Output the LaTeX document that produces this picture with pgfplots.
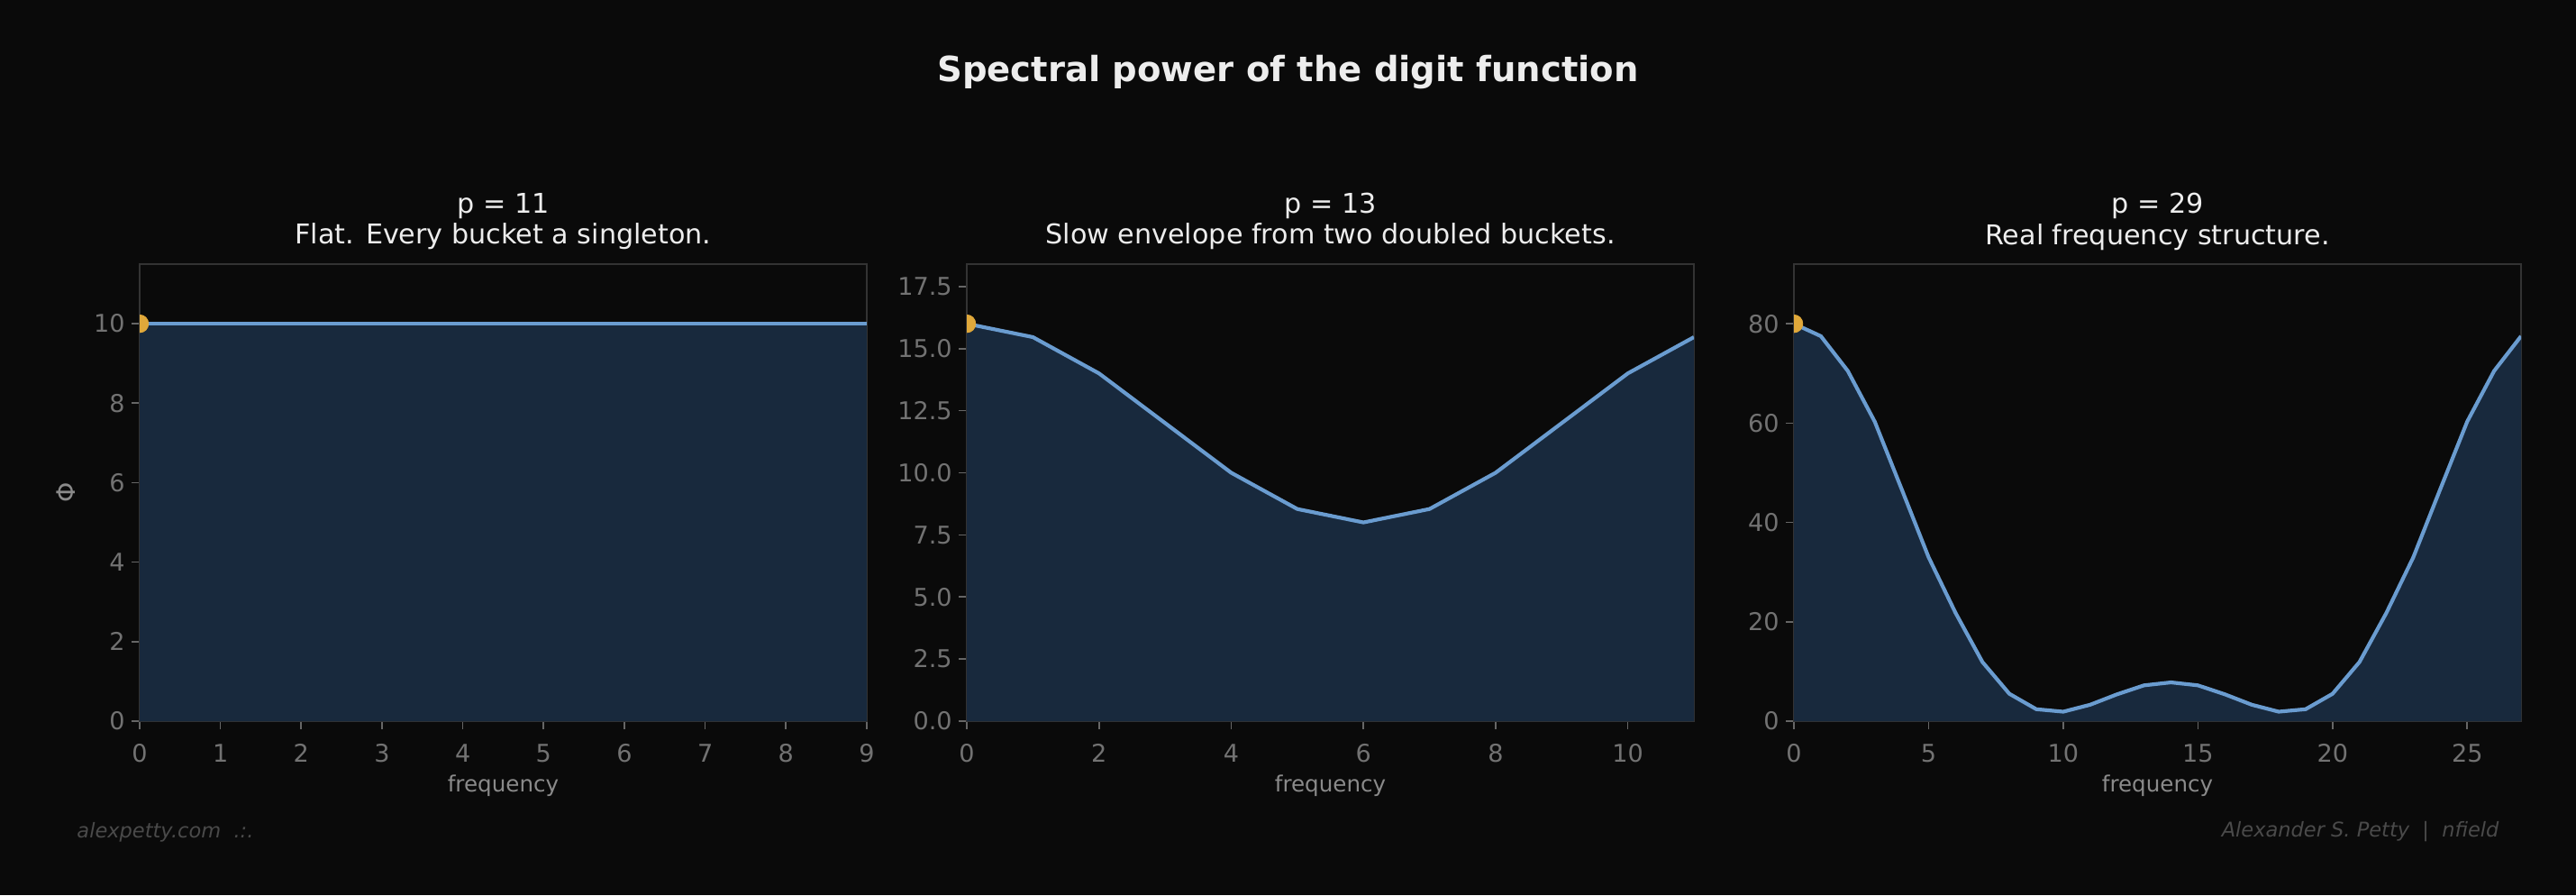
\documentclass[border=0pt]{standalone}
\usepackage{pgfplots}
\pgfplotsset{compat=1.18}
\usepackage{pgfplotstable}
\usepackage{fontspec}
\setmainfont{DejaVu Sans}

\definecolor{bg}{HTML}{0A0A0A}
\definecolor{fillc}{HTML}{18293D}
\definecolor{linec}{HTML}{6A9CD0}
\definecolor{dotc}{HTML}{E0A83A}
\definecolor{frame}{HTML}{333333}
\definecolor{tickc}{HTML}{666666}
\definecolor{tickl}{HTML}{727272}
\definecolor{labc}{HTML}{8A8A8A}
\definecolor{titc}{HTML}{EDEDED}
\definecolor{footc}{HTML}{4A4A4A}

% spectral power per frequency, one table per prime
\pgfplotstableread{
f phi
0 10
1 10
2 10
3 10
4 10
5 10
6 10
7 10
8 10
9 10
}\ptA
\pgfplotstableread{
f phi
0 16
1 15.46
2 14
3 12
4 10
5 8.54
6 8
7 8.54
8 10
9 12
10 14
11 15.46
}\ptB
\pgfplotstableread{
f phi
0 80
1 77.5
2 70.5
3 60.3
4 46.7
5 33.0
6 21.8
7 11.9
8 5.5
9 2.4
10 1.9
11 3.3
12 5.4
13 7.2
14 7.8
15 7.2
16 5.4
17 3.3
18 1.9
19 2.4
20 5.5
21 11.9
22 21.8
23 33.0
24 46.7
25 60.3
26 70.5
27 77.5
}\ptC

\pgfplotsset{
  panel/.style={
    scale only axis, width=387.36pt, height=243.36pt,
    anchor=south west, xmin=0, ymin=0,
    axis line style={draw=frame, line width=1pt},
    tick align=outside, major tick length=4.3pt,
    xtick pos=lower, ytick pos=left,
    tick style={draw=tickc, line width=0.8pt},
    ticklabel style={text=tickl, font=\fontsize{13}{15}\selectfont},
    xticklabel style={yshift=-4.3pt},
    /pgf/number format/assume math mode=true,
    scaled ticks=false,
    clip marker paths=true,
    xlabel={frequency},
    xlabel style={at={(axis description cs:0.5,0)}, anchor=base, yshift=-37.6pt,
      text=labc, font=\fontsize{11.8}{14}\selectfont},
  },
  areaplot/.style={fill=fillc, draw=none},
  lineplot/.style={draw=linec, line width=2pt, no marks},
  dotplot/.style={only marks, mark=*, mark size=4.7pt, color=dotc},
}

\newcommand{\paneltitle}[3]{%
  \node[anchor=base, text=titc, font=\fontsize{14.5}{17}\selectfont]
    at ([yshift=26.9pt]#1.north) {#2};
  \node[anchor=base, text=titc, font=\fontsize{14.5}{17}\selectfont]
    at ([yshift=10.56pt]#1.north) {#3};}

\begin{document}
\begin{tikzpicture}
\fill[bg] (0,0) rectangle (1372.32pt,476.64pt);

\begin{axis}[panel, name=pa, at={(74.4pt,92.64pt)},
  xmax=9, ymax=11.5, xtick={0,...,9}, ytick={0,2,...,10},
  ylabel={Φ},
  ylabel style={at={(axis description cs:0,0.5)}, anchor=center, yshift=39.4pt,
    text=labc, font=\fontsize{13.6}{15}\selectfont}]
  \addplot[areaplot] table[x=f, y=phi] {\ptA} \closedcycle;
  \addplot[lineplot] table[x=f, y=phi] {\ptA};
  \addplot[dotplot] coordinates {(0,10)};
\end{axis}

\begin{axis}[panel, name=pb, at={(515.04pt,92.64pt)},
  xmax=11, ymax=18.4, xtick={0,2,...,10}, ytick={0,2.5,...,17.5},
  yticklabel style={/pgf/number format/.cd, fixed, fixed zerofill, precision=1}]
  \addplot[areaplot] table[x=f, y=phi] {\ptB} \closedcycle;
  \addplot[lineplot] table[x=f, y=phi] {\ptB};
  \addplot[dotplot] coordinates {(0,16)};
\end{axis}

\begin{axis}[panel, name=pc, at={(955.68pt,92.64pt)},
  xmax=27, ymax=92, xtick={0,5,...,25}, ytick={0,20,...,80}]
  \addplot[areaplot] table[x=f, y=phi] {\ptC} \closedcycle;
  \addplot[lineplot] table[x=f, y=phi] {\ptC};
  \addplot[dotplot] coordinates {(0,80)};
\end{axis}

\paneltitle{pa}{p = 11}{Flat. Every bucket a singleton.}
\paneltitle{pb}{p = 13}{Slow envelope from two doubled buckets.}
\paneltitle{pc}{p = 29}{Real frequency structure.}

\node[anchor=base, text=titc, font=\fontsize{18.5}{22}\selectfont\bfseries]
  at (686.16pt,432.96pt) {Spectral power of the digit function};
\node[anchor=base west, text=footc, font=\fontsize{10.8}{12}\selectfont\itshape]
  at (37.5pt,30.7pt) {alexpetty.com\ \ .:.};
\node[anchor=base east, text=footc, font=\fontsize{10.8}{12}\selectfont\itshape]
  at (1334.8pt,31.2pt) {Alexander S. Petty\ \ |\ \ nfield};
\end{tikzpicture}
\end{document}
